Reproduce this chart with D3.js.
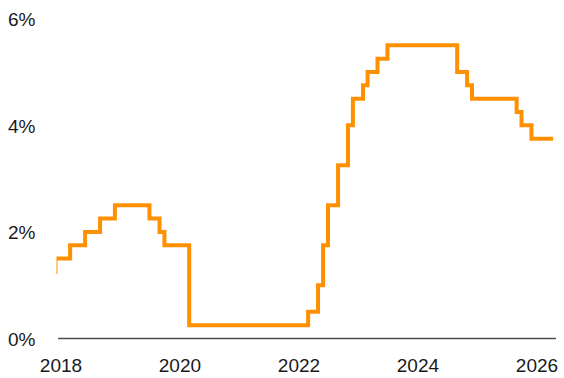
<!DOCTYPE html>
<html>
<head>
<meta charset="utf-8">
<script src="https://cdn.jsdelivr.net/npm/d3@7"></script>
<style>
  html, body { margin: 0; padding: 0; background: #fff; }
  svg { display: block; }
  text { font-family: "Liberation Sans", Arial, sans-serif; fill: #1a1a1a; }
</style>
</head>
<body>
<svg id="chart" width="564" height="378"></svg>
<script>
// Policy rate (upper bound), monthly: month start and the rate that month
const rateMonths = [
  "2017-11-01", "2017-12-01", "2018-03-01", "2018-06-01", "2018-09-01", "2018-12-01",
  "2019-07-01", "2019-09-01", "2019-10-01", "2020-03-01",
  "2022-03-01", "2022-05-01", "2022-06-01", "2022-07-01", "2022-09-01", "2022-11-01",
  "2022-12-01", "2023-02-01", "2023-03-01", "2023-05-01", "2023-07-01",
  "2024-09-01", "2024-11-01", "2024-12-01", "2025-09-01", "2025-10-01", "2025-12-01",
  "2026-04-01"
];
const rateValues = [
  1.25, 1.50, 1.75, 2.00, 2.25, 2.50,
  2.25, 2.00, 1.75, 0.25,
  0.50, 1.00, 1.75, 2.50, 3.25, 4.00,
  4.50, 4.75, 5.00, 5.25, 5.50,
  5.00, 4.75, 4.50, 4.25, 4.00, 3.75,
  3.75
];
const yearTicks = [2018, 2020, 2022, 2024, 2026];
const percentTicks = [0, 2, 4, 6];

const parse = d3.timeParse("%Y-%m-%d");
const series = rateMonths.map((m, i) => ({ date: parse(m), value: rateValues[i] }));

const svg = d3.select("#chart");

const x = d3.scaleTime()
  .domain([new Date(2018, 0, 1), new Date(2026, 0, 1)])
  .range([60.5, 536.5]);
const y = d3.scaleLinear()
  .domain([0, 6])
  .range([338.5, 18.7]);

const plotLeft = 56.5, plotRight = 556;

// Clip the rate line to the plotting area
svg.append("defs").append("clipPath").attr("id", "plot-clip")
  .append("rect")
  .attr("x", plotLeft).attr("y", 0)
  .attr("width", plotRight - plotLeft).attr("height", 378);

// Y axis labels (no gridlines)
const yAxis = d3.axisLeft(y).tickValues(percentTicks).tickSize(0).tickPadding(0)
  .tickFormat(d => d + "%");
const gy = svg.append("g").attr("transform", "translate(8,0)").call(yAxis);
gy.select(".domain").remove();
gy.selectAll("text")
  .attr("text-anchor", "start")
  .attr("x", 0)
  .attr("dy", "0.36em")
  .style("font-size", "19px");

// X axis labels
const xAxis = d3.axisBottom(x)
  .tickValues(yearTicks.map(yr => new Date(yr, 0, 1)))
  .tickSize(0).tickPadding(0)
  .tickFormat(d3.timeFormat("%Y"));
const gx = svg.append("g").attr("transform", "translate(0,372)").call(xAxis);
gx.select(".domain").remove();
gx.selectAll("text")
  .attr("dy", 0)
  .attr("y", 0)
  .style("font-size", "19px");

// Zero baseline
svg.append("line")
  .attr("x1", 58).attr("x2", plotRight)
  .attr("y1", y(0)).attr("y2", y(0))
  .attr("stroke", "#4d4d4d")
  .attr("stroke-width", 1.4);

// Rate line
const line = d3.line()
  .x(d => x(d.date))
  .y(d => y(d.value))
  .curve(d3.curveStepAfter);

svg.append("path")
  .datum(series)
  .attr("clip-path", "url(#plot-clip)")
  .attr("d", line)
  .attr("fill", "none")
  .attr("stroke", "#ff9000")
  .attr("stroke-width", 4)
  .attr("stroke-linejoin", "miter")
  .attr("stroke-linecap", "square");
</script>
</body>
</html>
